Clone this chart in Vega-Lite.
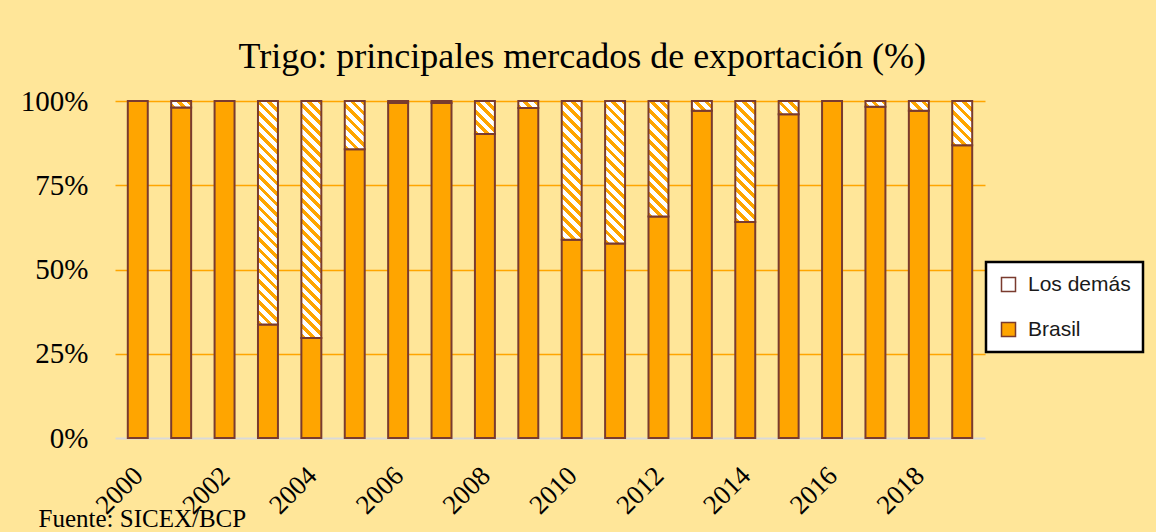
{
  "$schema": "https://vega.github.io/schema/vega-lite/v6.json",
  "autosize": "none",
  "padding": {"left": 115, "top": 101, "right": 171, "bottom": 94},
  "width": 870,
  "height": 337,
  "background": "#FFE699",
  "params": [
    {"name": "hatch", "value": [
      {"offset": 0, "color": "#FFA500"}, {"offset": 0.0161, "color": "#FFA500"}, {"offset": 0.0161, "color": "#FFFFFF"}, {"offset": 0.0357, "color": "#FFFFFF"},
      {"offset": 0.0357, "color": "#FFA500"}, {"offset": 0.0518, "color": "#FFA500"}, {"offset": 0.0518, "color": "#FFFFFF"}, {"offset": 0.0714, "color": "#FFFFFF"},
      {"offset": 0.0714, "color": "#FFA500"}, {"offset": 0.0875, "color": "#FFA500"}, {"offset": 0.0875, "color": "#FFFFFF"}, {"offset": 0.1071, "color": "#FFFFFF"},
      {"offset": 0.1071, "color": "#FFA500"}, {"offset": 0.1232, "color": "#FFA500"}, {"offset": 0.1232, "color": "#FFFFFF"}, {"offset": 0.1429, "color": "#FFFFFF"},
      {"offset": 0.1429, "color": "#FFA500"}, {"offset": 0.1589, "color": "#FFA500"}, {"offset": 0.1589, "color": "#FFFFFF"}, {"offset": 0.1786, "color": "#FFFFFF"},
      {"offset": 0.1786, "color": "#FFA500"}, {"offset": 0.1946, "color": "#FFA500"}, {"offset": 0.1946, "color": "#FFFFFF"}, {"offset": 0.2143, "color": "#FFFFFF"},
      {"offset": 0.2143, "color": "#FFA500"}, {"offset": 0.2304, "color": "#FFA500"}, {"offset": 0.2304, "color": "#FFFFFF"}, {"offset": 0.25, "color": "#FFFFFF"},
      {"offset": 0.25, "color": "#FFA500"}, {"offset": 0.2661, "color": "#FFA500"}, {"offset": 0.2661, "color": "#FFFFFF"}, {"offset": 0.2857, "color": "#FFFFFF"},
      {"offset": 0.2857, "color": "#FFA500"}, {"offset": 0.3018, "color": "#FFA500"}, {"offset": 0.3018, "color": "#FFFFFF"}, {"offset": 0.3214, "color": "#FFFFFF"},
      {"offset": 0.3214, "color": "#FFA500"}, {"offset": 0.3375, "color": "#FFA500"}, {"offset": 0.3375, "color": "#FFFFFF"}, {"offset": 0.3571, "color": "#FFFFFF"},
      {"offset": 0.3571, "color": "#FFA500"}, {"offset": 0.3732, "color": "#FFA500"}, {"offset": 0.3732, "color": "#FFFFFF"}, {"offset": 0.3929, "color": "#FFFFFF"},
      {"offset": 0.3929, "color": "#FFA500"}, {"offset": 0.4089, "color": "#FFA500"}, {"offset": 0.4089, "color": "#FFFFFF"}, {"offset": 0.4286, "color": "#FFFFFF"},
      {"offset": 0.4286, "color": "#FFA500"}, {"offset": 0.4446, "color": "#FFA500"}, {"offset": 0.4446, "color": "#FFFFFF"}, {"offset": 0.4643, "color": "#FFFFFF"},
      {"offset": 0.4643, "color": "#FFA500"}, {"offset": 0.4804, "color": "#FFA500"}, {"offset": 0.4804, "color": "#FFFFFF"}, {"offset": 0.5, "color": "#FFFFFF"},
      {"offset": 0.5, "color": "#FFA500"}, {"offset": 0.5161, "color": "#FFA500"}, {"offset": 0.5161, "color": "#FFFFFF"}, {"offset": 0.5357, "color": "#FFFFFF"},
      {"offset": 0.5357, "color": "#FFA500"}, {"offset": 0.5518, "color": "#FFA500"}, {"offset": 0.5518, "color": "#FFFFFF"}, {"offset": 0.5714, "color": "#FFFFFF"},
      {"offset": 0.5714, "color": "#FFA500"}, {"offset": 0.5875, "color": "#FFA500"}, {"offset": 0.5875, "color": "#FFFFFF"}, {"offset": 0.6071, "color": "#FFFFFF"},
      {"offset": 0.6071, "color": "#FFA500"}, {"offset": 0.6232, "color": "#FFA500"}, {"offset": 0.6232, "color": "#FFFFFF"}, {"offset": 0.6429, "color": "#FFFFFF"},
      {"offset": 0.6429, "color": "#FFA500"}, {"offset": 0.6589, "color": "#FFA500"}, {"offset": 0.6589, "color": "#FFFFFF"}, {"offset": 0.6786, "color": "#FFFFFF"},
      {"offset": 0.6786, "color": "#FFA500"}, {"offset": 0.6946, "color": "#FFA500"}, {"offset": 0.6946, "color": "#FFFFFF"}, {"offset": 0.7143, "color": "#FFFFFF"},
      {"offset": 0.7143, "color": "#FFA500"}, {"offset": 0.7304, "color": "#FFA500"}, {"offset": 0.7304, "color": "#FFFFFF"}, {"offset": 0.75, "color": "#FFFFFF"},
      {"offset": 0.75, "color": "#FFA500"}, {"offset": 0.7661, "color": "#FFA500"}, {"offset": 0.7661, "color": "#FFFFFF"}, {"offset": 0.7857, "color": "#FFFFFF"},
      {"offset": 0.7857, "color": "#FFA500"}, {"offset": 0.8018, "color": "#FFA500"}, {"offset": 0.8018, "color": "#FFFFFF"}, {"offset": 0.8214, "color": "#FFFFFF"},
      {"offset": 0.8214, "color": "#FFA500"}, {"offset": 0.8375, "color": "#FFA500"}, {"offset": 0.8375, "color": "#FFFFFF"}, {"offset": 0.8571, "color": "#FFFFFF"},
      {"offset": 0.8571, "color": "#FFA500"}, {"offset": 0.8732, "color": "#FFA500"}, {"offset": 0.8732, "color": "#FFFFFF"}, {"offset": 0.8929, "color": "#FFFFFF"},
      {"offset": 0.8929, "color": "#FFA500"}, {"offset": 0.9089, "color": "#FFA500"}, {"offset": 0.9089, "color": "#FFFFFF"}, {"offset": 0.9286, "color": "#FFFFFF"},
      {"offset": 0.9286, "color": "#FFA500"}, {"offset": 0.9446, "color": "#FFA500"}, {"offset": 0.9446, "color": "#FFFFFF"}, {"offset": 0.9643, "color": "#FFFFFF"},
      {"offset": 0.9643, "color": "#FFA500"}, {"offset": 0.9804, "color": "#FFA500"}, {"offset": 0.9804, "color": "#FFFFFF"}, {"offset": 1, "color": "#FFFFFF"}
    ]},
    {"name": "symhatch", "value": [
      {"offset": 0, "color": "#FFFFFF"}, {"offset": 0.36, "color": "#FFFFFF"},
      {"offset": 0.36, "color": "#FFA500"}, {"offset": 0.64, "color": "#FFA500"},
      {"offset": 0.64, "color": "#FFFFFF"}, {"offset": 1, "color": "#FFFFFF"}
    ]}
  ],
  "title": {
    "text": "Trigo:  principales mercados de exportación (%)",
    "font": "Liberation Serif",
    "fontSize": 36,
    "fontWeight": "normal",
    "color": "#000000",
    "anchor": "middle",
    "frame": "bounds",
    "offset": 11
  },
  "data": {
    "values": [
      {"year": 2000, "cat": "Brasil", "share": 100}, {"year": 2000, "cat": "Los demás", "share": 0},
      {"year": 2001, "cat": "Brasil", "share": 98.1}, {"year": 2001, "cat": "Los demás", "share": 1.9},
      {"year": 2002, "cat": "Brasil", "share": 100}, {"year": 2002, "cat": "Los demás", "share": 0},
      {"year": 2003, "cat": "Brasil", "share": 33.7}, {"year": 2003, "cat": "Los demás", "share": 66.3},
      {"year": 2004, "cat": "Brasil", "share": 29.7}, {"year": 2004, "cat": "Los demás", "share": 70.3},
      {"year": 2005, "cat": "Brasil", "share": 85.7}, {"year": 2005, "cat": "Los demás", "share": 14.3},
      {"year": 2006, "cat": "Brasil", "share": 99.4}, {"year": 2006, "cat": "Los demás", "share": 0.6},
      {"year": 2007, "cat": "Brasil", "share": 99.4}, {"year": 2007, "cat": "Los demás", "share": 0.6},
      {"year": 2008, "cat": "Brasil", "share": 90.2}, {"year": 2008, "cat": "Los demás", "share": 9.8},
      {"year": 2009, "cat": "Brasil", "share": 97.9}, {"year": 2009, "cat": "Los demás", "share": 2.1},
      {"year": 2010, "cat": "Brasil", "share": 58.8}, {"year": 2010, "cat": "Los demás", "share": 41.2},
      {"year": 2011, "cat": "Brasil", "share": 57.7}, {"year": 2011, "cat": "Los demás", "share": 42.3},
      {"year": 2012, "cat": "Brasil", "share": 65.7}, {"year": 2012, "cat": "Los demás", "share": 34.3},
      {"year": 2013, "cat": "Brasil", "share": 97.1}, {"year": 2013, "cat": "Los demás", "share": 2.9},
      {"year": 2014, "cat": "Brasil", "share": 64.1}, {"year": 2014, "cat": "Los demás", "share": 35.9},
      {"year": 2015, "cat": "Brasil", "share": 96.1}, {"year": 2015, "cat": "Los demás", "share": 3.9},
      {"year": 2016, "cat": "Brasil", "share": 100}, {"year": 2016, "cat": "Los demás", "share": 0},
      {"year": 2017, "cat": "Brasil", "share": 98.3}, {"year": 2017, "cat": "Los demás", "share": 1.7},
      {"year": 2018, "cat": "Brasil", "share": 97.1}, {"year": 2018, "cat": "Los demás", "share": 2.9},
      {"year": 2019, "cat": "Brasil", "share": 86.9}, {"year": 2019, "cat": "Los demás", "share": 13.1}
    ]
  },
  "mark": {"type": "bar", "stroke": "#7A3B2E", "strokeWidth": 2},
  "encoding": {
    "x": {
      "field": "year",
      "type": "ordinal",
      "scale": {"paddingInner": 0.54, "paddingOuter": 0.295},
      "axis": {
        "values": [2000, 2002, 2004, 2006, 2008, 2010, 2012, 2014, 2016, 2018],
        "labelAngle": -45,
        "labelFont": "Liberation Serif",
        "labelFontSize": 27,
        "labelColor": "#000000",
        "labelPadding": 24,
        "labelOffset": -8,
        "ticks": false,
        "tickSize": 0,
        "domainColor": "#D9D9D9",
        "domainWidth": 2,
        "title": "Fuente: SICEX/BCP",
        "titleFont": "Liberation Serif",
        "titleFontSize": 25,
        "titleFontWeight": "normal",
        "titleColor": "#000000",
        "titleAnchor": "start",
        "titleAlign": "left",
        "titleBaseline": "alphabetic",
        "titleX": -77,
        "titleY": 88
      }
    },
    "y": {
      "field": "share",
      "type": "quantitative",
      "stack": "zero",
      "scale": {"domain": [0, 100], "nice": false},
      "axis": {
        "values": [0, 25, 50, 75, 100],
        "labelExpr": "datum.value + '%'",
        "title": null,
        "domain": false,
        "ticks": false,
        "labelFont": "Liberation Serif",
        "labelFontSize": 29,
        "labelColor": "#000000",
        "labelPadding": 27,
        "gridColor": {"condition": {"test": "datum.value === 0", "value": "transparent"}, "value": "#FFA500"},
        "gridWidth": 1.5,
        "gridOpacity": 1
      }
    },
    "order": {"field": "cat", "sort": "ascending"},
    "fill": {
      "field": "cat",
      "type": "nominal",
      "scale": {
        "domain": ["Los demás", "Brasil"],
        "range": ["#FFFFFF", "#FFA500"]
      },
      "legend": {
        "title": null,
        "orient": "none",
        "legendX": 871,
        "legendY": 161,
        "fillColor": "#FFFFFF",
        "strokeColor": "#000000",
        "padding": 12,
        "cornerRadius": 0,
        "labelFont": "Liberation Sans",
        "labelFontSize": 21,
        "labelColor": "#1a1a1a",
        "labelOffset": 9,
        "symbolType": "square",
        "symbolSize": 196,
        "symbolStrokeColor": "#7A3B2E",
        "symbolStrokeWidth": 1.5,
        "symbolOpacity": 1,
        "rowPadding": 23,
        "encode": {
          "legend": {
            "update": {
              "strokeWidth": {"value": 2.5}
            }
          },
          "symbols": {
            "update": {
              "fill": {"value": {"expr": "datum.value === 'Los demás' ? {gradient: 'linear', x1: 0, y1: 1, x2: 1, y2: 0.001, stops: symhatch} : '#FFA500'"}},
              "stroke": {"value": "#7A3B2E"},
              "strokeWidth": {"value": 1.5}
            }
          }
        }
      },
      "condition": {
        "test": "datum.cat === 'Los demás'",
        "value": {"expr": "{gradient: 'linear', x1: 0, y1: 1, x2: 294 * bandwidth('x') / (pow(bandwidth('x'), 2) + pow(abs(scale('y', datum.share_end) - scale('y', datum.share_start)), 2)), y2: 1 - 294 * abs(scale('y', datum.share_end) - scale('y', datum.share_start)) / (pow(bandwidth('x'), 2) + pow(abs(scale('y', datum.share_end) - scale('y', datum.share_start)), 2)), stops: hatch}"}
      }
    }
  },
  "config": {
    "view": {"stroke": null},
    "axis": {"zindex": 0}
  }
}
